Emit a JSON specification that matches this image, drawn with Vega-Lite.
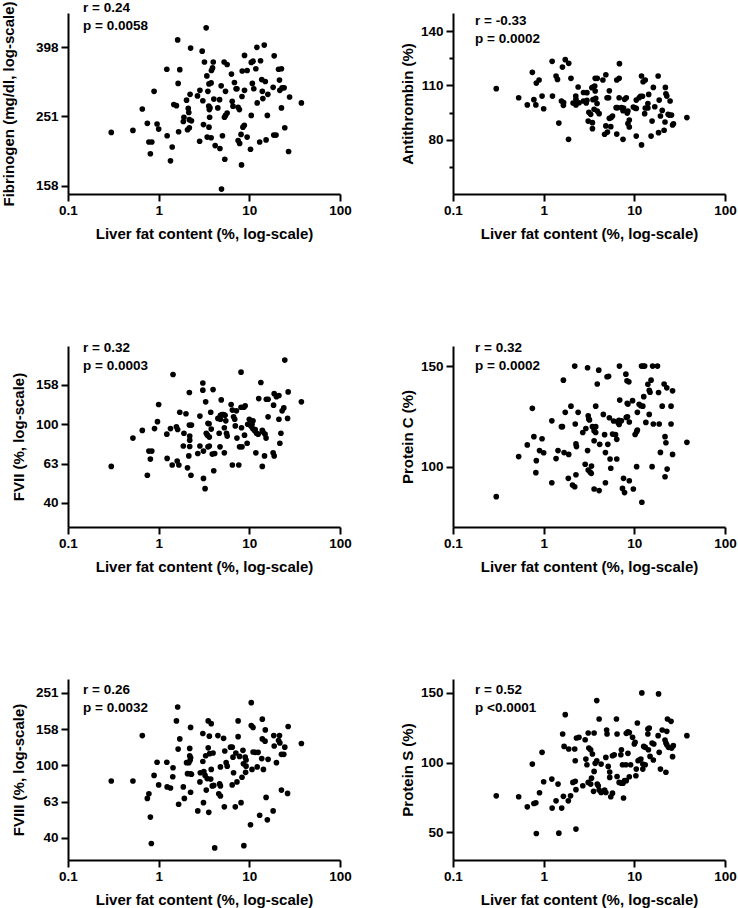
{
"$schema": "https://vega.github.io/schema/vega-lite/v6.json",
"background": "white",
"padding": {"left": 1, "top": 0, "right": 5, "bottom": 5},
"columns": 2,
"spacing": {"row": 152, "column": 113},
"bounds": "flush",
"config": {
 "font": "Liberation Sans",
 "view": {"stroke": null},
 "axis": {"grid": false, "domainColor": "black", "domainWidth": 2, "tickColor": "black", "tickWidth": 2, "tickSize": 7,
  "labelFont": "Liberation Sans", "labelFontSize": 13.5, "labelFontWeight": "bold", "labelColor": "black", "labelPadding": 3,
  "titleFont": "Liberation Sans", "titleFontSize": 15, "titleFontWeight": "bold", "titleColor": "black", "labelFlush": false, "labelOverlap": false},
 "axisX": {"labelPadding": 2, "titlePadding": 10},
 "axisY": {"titlePadding": 9},
 "title": {"font": "Liberation Sans", "fontSize": 13.5, "fontWeight": "bold", "color": "black", "anchor": "start", "frame": "group", "dx": 15, "lineHeight": 18, "baseline": "top"},
 "point": {"filled": true, "size": 32, "color": "black", "opacity": 1}
},
"datasets": {
"p1": [{"fat":0.30,"v":226},{"fat":0.52,"v":229},{"fat":0.66,"v":264},{"fat":0.75,"v":240},{"fat":0.89,"v":297},{"fat":0.96,"v":239},{"fat":1.0,"v":231},{"fat":0.78,"v":212},{"fat":0.84,"v":212},{"fat":0.81,"v":196},{"fat":1.24,"v":221},{"fat":1.23,"v":344},{"fat":1.41,"v":205},{"fat":1.35,"v":187},{"fat":1.47,"v":272},{"fat":1.57,"v":270},{"fat":1.62,"v":418},{"fat":1.64,"v":313},{"fat":1.71,"v":343},{"fat":1.66,"v":227},{"fat":1.90,"v":250},{"fat":1.87,"v":243},{"fat":2.03,"v":280},{"fat":2.12,"v":265},{"fat":2.15,"v":258},{"fat":2.18,"v":246},{"fat":2.30,"v":244},{"fat":2.08,"v":230},{"fat":2.18,"v":233},{"fat":2.25,"v":396},{"fat":2.22,"v":291},{"fat":2.68,"v":288},{"fat":2.85,"v":299},{"fat":2.83,"v":213},{"fat":3.02,"v":388},{"fat":3.07,"v":279},{"fat":3.12,"v":238},{"fat":3.2,"v":361},{"fat":3.34,"v":453},{"fat":3.4,"v":329},{"fat":3.43,"v":219},{"fat":3.49,"v":297},{"fat":3.57,"v":269},{"fat":3.62,"v":263},{"fat":3.68,"v":266},{"fat":3.59,"v":312},{"fat":3.79,"v":314},{"fat":3.59,"v":234},{"fat":3.65,"v":250},{"fat":3.82,"v":341},{"fat":3.93,"v":347},{"fat":4.0,"v":361},{"fat":3.79,"v":218},{"fat":4.06,"v":282},{"fat":4.2,"v":207},{"fat":4.49,"v":266},{"fat":4.7,"v":281},{"fat":4.74,"v":203},{"fat":4.89,"v":308},{"fat":4.93,"v":155},{"fat":5.05,"v":221},{"fat":5.27,"v":361},{"fat":5.32,"v":250},{"fat":5.46,"v":253},{"fat":5.36,"v":189},{"fat":5.46,"v":297},{"fat":5.69,"v":355},{"fat":5.69,"v":257},{"fat":6.35,"v":333},{"fat":6.47,"v":278},{"fat":6.6,"v":269},{"fat":6.85,"v":315},{"fat":7.14,"v":302},{"fat":7.3,"v":302},{"fat":7.52,"v":267},{"fat":7.77,"v":263},{"fat":7.52,"v":214},{"fat":7.82,"v":210},{"fat":8.1,"v":223},{"fat":8.2,"v":182},{"fat":8.3,"v":287},{"fat":8.35,"v":340},{"fat":9.46,"v":341},{"fat":8.5,"v":234},{"fat":8.8,"v":237},{"fat":8.85,"v":377},{"fat":8.85,"v":299},{"fat":9.46,"v":219},{"fat":10.3,"v":202},{"fat":10.5,"v":253},{"fat":10.5,"v":360},{"fat":10.8,"v":313},{"fat":11.0,"v":363},{"fat":11.2,"v":302},{"fat":11.8,"v":345},{"fat":12.1,"v":398},{"fat":12.2,"v":275},{"fat":13.0,"v":212},{"fat":13.3,"v":364},{"fat":13.7,"v":321},{"fat":13.9,"v":297},{"fat":14.1,"v":283},{"fat":14.6,"v":404},{"fat":15.0,"v":317},{"fat":15.3,"v":215},{"fat":15.8,"v":253},{"fat":16.0,"v":291},{"fat":18.3,"v":305},{"fat":18.6,"v":222},{"fat":18.8,"v":376},{"fat":19.7,"v":222},{"fat":21.0,"v":344},{"fat":21.5,"v":320},{"fat":21.7,"v":299},{"fat":22.6,"v":345},{"fat":22.6,"v":266},{"fat":23.0,"v":304},{"fat":24.2,"v":304},{"fat":24.6,"v":233},{"fat":27.1,"v":199},{"fat":27.8,"v":286},{"fat":37.5,"v":275}],
"p2": [{"fat":0.30,"v":108.2},{"fat":0.53,"v":103.2},{"fat":0.66,"v":99.2},{"fat":0.75,"v":117.2},{"fat":0.78,"v":102.1},{"fat":0.82,"v":99.2},{"fat":0.83,"v":111.3},{"fat":0.89,"v":113},{"fat":0.96,"v":104.1},{"fat":1.0,"v":97.1},{"fat":1.24,"v":123.3},{"fat":1.25,"v":104.1},{"fat":1.37,"v":115.2},{"fat":1.42,"v":113.3},{"fat":1.47,"v":89.2},{"fat":1.57,"v":101.4},{"fat":1.61,"v":120.1},{"fat":1.65,"v":99},{"fat":1.66,"v":100.5},{"fat":1.73,"v":124.2},{"fat":1.89,"v":122.2},{"fat":1.88,"v":80.2},{"fat":2.0,"v":113.9},{"fat":2.11,"v":100.3},{"fat":2.26,"v":104.1},{"fat":2.27,"v":102.3},{"fat":2.27,"v":99.2},{"fat":2.4,"v":109.1},{"fat":2.46,"v":100.4},{"fat":2.75,"v":106.1},{"fat":2.75,"v":101.4},{"fat":2.95,"v":100.3},{"fat":3.0,"v":101.7},{"fat":3.0,"v":106},{"fat":3.1,"v":90.3},{"fat":3.15,"v":95.1},{"fat":3.3,"v":94},{"fat":3.45,"v":89.4},{"fat":3.45,"v":86.1},{"fat":3.4,"v":108.7},{"fat":3.5,"v":109.1},{"fat":3.66,"v":109.6},{"fat":3.5,"v":102.1},{"fat":3.75,"v":102.8},{"fat":3.6,"v":96.8},{"fat":3.7,"v":113.9},{"fat":3.9,"v":113.9},{"fat":3.7,"v":106.9},{"fat":3.88,"v":100},{"fat":3.9,"v":95.8},{"fat":4.09,"v":94.4},{"fat":4.5,"v":113},{"fat":4.85,"v":115.9},{"fat":4.7,"v":83},{"fat":4.85,"v":87.6},{"fat":5.0,"v":103.2},{"fat":5.2,"v":103.2},{"fat":5.3,"v":107},{"fat":5.05,"v":84.2},{"fat":5.3,"v":91.8},{"fat":5.5,"v":87.2},{"fat":5.55,"v":92.2},{"fat":5.74,"v":93.1},{"fat":6.3,"v":97.7},{"fat":6.4,"v":113},{"fat":6.8,"v":113.9},{"fat":6.8,"v":103.2},{"fat":6.5,"v":97.7},{"fat":6.4,"v":83.1},{"fat":6.85,"v":122},{"fat":7.2,"v":97.7},{"fat":7.6,"v":97.5},{"fat":7.5,"v":96},{"fat":7.5,"v":80.2},{"fat":7.8,"v":102.3},{"fat":8.15,"v":103.2},{"fat":8.35,"v":94.7},{"fat":8.5,"v":95.8},{"fat":8.5,"v":88.9},{"fat":8.8,"v":90.9},{"fat":8.8,"v":87},{"fat":9.75,"v":98},{"fat":10.2,"v":97.5},{"fat":10.5,"v":97.3},{"fat":10.5,"v":101.9},{"fat":11.3,"v":103.2},{"fat":10.5,"v":82},{"fat":11.7,"v":104},{"fat":12.3,"v":104},{"fat":12.0,"v":115.2},{"fat":12.5,"v":112},{"fat":13.2,"v":113},{"fat":12.0,"v":77.1},{"fat":13.0,"v":94.4},{"fat":13.2,"v":97.5},{"fat":14.1,"v":97.5},{"fat":14.1,"v":100},{"fat":14.4,"v":105},{"fat":15.3,"v":82},{"fat":15.7,"v":90.3},{"fat":16.2,"v":108.9},{"fat":16.8,"v":98.2},{"fat":18.3,"v":115.2},{"fat":18.8,"v":101.9},{"fat":18.5,"v":83.9},{"fat":19.4,"v":93.1},{"fat":20.3,"v":96.2},{"fat":21.3,"v":85.2},{"fat":21.8,"v":89.8},{"fat":22.0,"v":108.9},{"fat":22.3,"v":105.4},{"fat":22.8,"v":104.1},{"fat":23.6,"v":94},{"fat":24.3,"v":93.6},{"fat":24.8,"v":101.4},{"fat":25.7,"v":93.6},{"fat":26.4,"v":88.1},{"fat":27,"v":88.8},{"fat":38,"v":92.2}],
"p3": [{"fat":0.30,"v":61},{"fat":0.52,"v":85},{"fat":0.66,"v":93},{"fat":0.75,"v":55},{"fat":0.78,"v":73},{"fat":0.84,"v":73},{"fat":0.81,"v":66.5},{"fat":0.90,"v":95},{"fat":0.97,"v":103},{"fat":1.0,"v":126},{"fat":1.23,"v":89},{"fat":1.24,"v":67},{"fat":1.35,"v":95},{"fat":1.41,"v":62},{"fat":1.44,"v":179},{"fat":1.57,"v":97},{"fat":1.62,"v":94},{"fat":1.6,"v":65},{"fat":1.67,"v":62},{"fat":1.71,"v":115},{"fat":1.87,"v":77.5},{"fat":1.90,"v":90},{"fat":2.0,"v":113},{"fat":2.08,"v":60},{"fat":2.15,"v":69},{"fat":2.18,"v":145},{"fat":2.2,"v":87},{"fat":2.2,"v":83},{"fat":2.2,"v":77},{"fat":2.18,"v":99},{"fat":2.3,"v":99},{"fat":2.27,"v":55},{"fat":2.7,"v":71},{"fat":2.85,"v":110},{"fat":2.85,"v":77.5},{"fat":3.07,"v":162},{"fat":3.07,"v":149},{"fat":3.12,"v":73},{"fat":3.12,"v":53},{"fat":3.25,"v":47},{"fat":3.3,"v":130},{"fat":3.35,"v":90},{"fat":3.45,"v":88},{"fat":3.5,"v":101},{"fat":3.6,"v":100.5},{"fat":3.5,"v":76.7},{"fat":3.62,"v":77.5},{"fat":3.62,"v":86},{"fat":3.75,"v":115},{"fat":3.8,"v":94.5},{"fat":3.98,"v":150},{"fat":3.9,"v":70.5},{"fat":4.15,"v":71},{"fat":4.05,"v":58},{"fat":4.5,"v":107},{"fat":4.8,"v":106},{"fat":4.65,"v":90},{"fat":4.75,"v":76.7},{"fat":4.9,"v":133},{"fat":4.8,"v":111},{"fat":5.0,"v":112},{"fat":5.2,"v":112},{"fat":5.4,"v":111},{"fat":5.3,"v":71.5},{"fat":5.3,"v":96},{"fat":5.6,"v":90},{"fat":5.7,"v":87},{"fat":5.5,"v":104},{"fat":6.3,"v":126},{"fat":6.5,"v":118},{"fat":6.5,"v":62},{"fat":6.7,"v":109},{"fat":6.9,"v":106},{"fat":7.0,"v":98},{"fat":7.2,"v":117},{"fat":7.3,"v":85},{"fat":7.65,"v":62},{"fat":7.8,"v":76.7},{"fat":8.1,"v":122},{"fat":8.1,"v":184},{"fat":8.2,"v":96},{"fat":8.3,"v":76.7},{"fat":8.7,"v":122},{"fat":8.85,"v":88},{"fat":9.0,"v":124},{"fat":9.46,"v":80},{"fat":9.6,"v":100},{"fat":10.0,"v":106},{"fat":10.4,"v":98},{"fat":10.7,"v":100},{"fat":11.0,"v":104},{"fat":10.9,"v":95},{"fat":11.4,"v":93},{"fat":11.6,"v":94},{"fat":12.0,"v":90},{"fat":12.5,"v":89},{"fat":11.8,"v":71.5},{"fat":12.7,"v":135},{"fat":13.4,"v":163},{"fat":13.9,"v":93},{"fat":13.9,"v":61},{"fat":14.7,"v":69},{"fat":14.1,"v":91.5},{"fat":14.9,"v":89},{"fat":15.3,"v":85},{"fat":15.4,"v":134},{"fat":16.1,"v":134},{"fat":16.1,"v":109},{"fat":18.5,"v":125},{"fat":18.3,"v":71.5},{"fat":18.8,"v":69},{"fat":18.8,"v":143},{"fat":19.9,"v":138},{"fat":21.2,"v":140},{"fat":21.2,"v":106},{"fat":21.7,"v":80},{"fat":22.3,"v":90},{"fat":23.0,"v":117},{"fat":24.0,"v":121},{"fat":24.6,"v":212},{"fat":26.4,"v":107},{"fat":26.8,"v":146},{"fat":37.5,"v":130}],
"p4": [{"fat":0.30,"v":85.1},{"fat":0.53,"v":105},{"fat":0.66,"v":110.8},{"fat":0.75,"v":129},{"fat":0.78,"v":114.9},{"fat":0.82,"v":97},{"fat":0.83,"v":103},{"fat":0.90,"v":108},{"fat":0.96,"v":113.9},{"fat":1.0,"v":106.9},{"fat":1.23,"v":92},{"fat":1.23,"v":122.8},{"fat":1.37,"v":104},{"fat":1.44,"v":108},{"fat":1.57,"v":119.9},{"fat":1.61,"v":119.9},{"fat":1.65,"v":143},{"fat":1.68,"v":107},{"fat":1.73,"v":127},{"fat":1.89,"v":106.1},{"fat":1.87,"v":94.2},{"fat":2.0,"v":130.1},{"fat":2.08,"v":90.9},{"fat":2.2,"v":90},{"fat":2.2,"v":150},{"fat":2.23,"v":121.2},{"fat":2.27,"v":111.3},{"fat":2.3,"v":110},{"fat":2.27,"v":96},{"fat":2.4,"v":127},{"fat":2.7,"v":117},{"fat":2.87,"v":101.2},{"fat":2.92,"v":119},{"fat":3.05,"v":149.2},{"fat":3.05,"v":108},{"fat":3.1,"v":125.3},{"fat":3.15,"v":123.7},{"fat":3.2,"v":123.2},{"fat":3.1,"v":98.3},{"fat":3.25,"v":97.3},{"fat":3.35,"v":96.7},{"fat":3.37,"v":100.3},{"fat":3.45,"v":119.9},{"fat":3.6,"v":117.9},{"fat":3.75,"v":119.9},{"fat":3.6,"v":88.9},{"fat":3.6,"v":112.9},{"fat":3.75,"v":130.1},{"fat":3.9,"v":141.1},{"fat":3.75,"v":117},{"fat":4.05,"v":148},{"fat":4.09,"v":88.1},{"fat":4.15,"v":111.1},{"fat":4.55,"v":126},{"fat":4.8,"v":107},{"fat":4.7,"v":115.9},{"fat":5.0,"v":144.7},{"fat":5.2,"v":144.9},{"fat":5.1,"v":111.1},{"fat":4.8,"v":92},{"fat":5.3,"v":124.3},{"fat":5.4,"v":103.8},{"fat":5.5,"v":99.2},{"fat":5.75,"v":116.2},{"fat":5.9,"v":122.7},{"fat":6.2,"v":115.9},{"fat":6.4,"v":113.6},{"fat":6.4,"v":103.8},{"fat":6.6,"v":122},{"fat":6.8,"v":121},{"fat":6.75,"v":123},{"fat":6.85,"v":150},{"fat":6.9,"v":133.1},{"fat":7.2,"v":122.8},{"fat":7.4,"v":89.2},{"fat":7.6,"v":94.2},{"fat":7.8,"v":87.1},{"fat":8.07,"v":146},{"fat":8.3,"v":142.7},{"fat":8.35,"v":131.5},{"fat":8.5,"v":131.1},{"fat":8.15,"v":124.5},{"fat":8.4,"v":124.8},{"fat":8.7,"v":142.2},{"fat":8.8,"v":122.2},{"fat":8.8,"v":93},{"fat":9.56,"v":132.8},{"fat":9.75,"v":88.9},{"fat":10.2,"v":116},{"fat":10.6,"v":117.4},{"fat":10.8,"v":118.2},{"fat":10.6,"v":100},{"fat":10.8,"v":127},{"fat":11.3,"v":131},{"fat":11.8,"v":130.3},{"fat":12.0,"v":150},{"fat":12.5,"v":150},{"fat":13.0,"v":150},{"fat":12.1,"v":82.3},{"fat":12.4,"v":130.1},{"fat":12.7,"v":134.8},{"fat":13.4,"v":122},{"fat":14.1,"v":141},{"fat":14.6,"v":138},{"fat":14.9,"v":137},{"fat":14.6,"v":126},{"fat":15.3,"v":143},{"fat":15.7,"v":100},{"fat":15.9,"v":150},{"fat":18.0,"v":150},{"fat":16.2,"v":121.2},{"fat":18.5,"v":136.9},{"fat":18.8,"v":121.2},{"fat":19.4,"v":107.1},{"fat":20.3,"v":130.1},{"fat":21.3,"v":141.1},{"fat":21.8,"v":114.9},{"fat":22.3,"v":111.9},{"fat":21.8,"v":95},{"fat":22.8,"v":139.2},{"fat":23.0,"v":98.8},{"fat":25.4,"v":130.1},{"fat":25.4,"v":121.2},{"fat":26.4,"v":137.7},{"fat":26.4,"v":106.1},{"fat":38,"v":112.1}],
"p5": [{"fat":0.30,"v":82},{"fat":0.52,"v":82},{"fat":0.66,"v":146},{"fat":0.75,"v":65.7},{"fat":0.78,"v":69.7},{"fat":0.81,"v":51.8},{"fat":0.83,"v":37},{"fat":0.89,"v":88},{"fat":0.96,"v":104},{"fat":1.0,"v":78},{"fat":1.23,"v":104},{"fat":1.24,"v":76},{"fat":1.35,"v":75},{"fat":1.44,"v":97},{"fat":1.43,"v":86.5},{"fat":1.57,"v":176},{"fat":1.62,"v":210},{"fat":1.64,"v":123},{"fat":1.66,"v":61},{"fat":1.71,"v":140},{"fat":1.87,"v":76},{"fat":1.92,"v":65.7},{"fat":2.03,"v":103.5},{"fat":2.08,"v":90},{"fat":2.15,"v":103.5},{"fat":2.2,"v":124},{"fat":2.2,"v":113},{"fat":2.25,"v":110},{"fat":2.22,"v":106.6},{"fat":2.25,"v":89.9},{"fat":2.3,"v":89.3},{"fat":2.25,"v":71},{"fat":2.25,"v":162},{"fat":2.7,"v":56},{"fat":2.85,"v":81},{"fat":2.88,"v":91},{"fat":3.07,"v":150},{"fat":3.07,"v":105},{"fat":3.12,"v":62.2},{"fat":3.15,"v":92.3},{"fat":3.25,"v":88},{"fat":3.3,"v":113},{"fat":3.35,"v":73},{"fat":3.43,"v":84.5},{"fat":3.52,"v":176},{"fat":3.52,"v":125},{"fat":3.62,"v":145},{"fat":3.57,"v":55},{"fat":3.65,"v":116},{"fat":3.75,"v":84},{"fat":3.8,"v":170},{"fat":3.8,"v":95},{"fat":3.98,"v":117},{"fat":3.9,"v":77},{"fat":4.05,"v":77.5},{"fat":4.15,"v":35},{"fat":4.5,"v":146},{"fat":4.6,"v":69.7},{"fat":4.8,"v":67.7},{"fat":4.7,"v":79},{"fat":4.8,"v":77},{"fat":4.8,"v":98},{"fat":5.2,"v":141},{"fat":5.36,"v":120},{"fat":5.55,"v":103.5},{"fat":5.7,"v":99},{"fat":5.3,"v":59},{"fat":6.2,"v":126},{"fat":6.47,"v":126},{"fat":6.6,"v":111},{"fat":6.47,"v":78},{"fat":6.7,"v":91},{"fat":7.0,"v":59},{"fat":7.1,"v":117},{"fat":7.3,"v":81},{"fat":7.52,"v":176},{"fat":7.52,"v":144},{"fat":7.8,"v":112},{"fat":8.1,"v":62.2},{"fat":8.3,"v":86},{"fat":8.5,"v":121},{"fat":8.6,"v":102},{"fat":8.7,"v":36},{"fat":9.0,"v":111},{"fat":9.2,"v":107},{"fat":9.1,"v":91.5},{"fat":9.2,"v":99},{"fat":10.3,"v":47},{"fat":10.5,"v":222},{"fat":10.5,"v":166},{"fat":10.7,"v":95},{"fat":11.0,"v":162},{"fat":11.0,"v":118.5},{"fat":11.6,"v":118},{"fat":12.5,"v":118},{"fat":12.2,"v":98},{"fat":13.0,"v":53},{"fat":13.7,"v":109},{"fat":13.9,"v":180},{"fat":13.9,"v":140},{"fat":14.3,"v":95},{"fat":14.9,"v":136},{"fat":15.0,"v":157},{"fat":15.3,"v":66.5},{"fat":15.8,"v":50},{"fat":16.1,"v":108},{"fat":18.3,"v":56},{"fat":18.6,"v":146},{"fat":18.8,"v":128},{"fat":19.9,"v":103.5},{"fat":21.0,"v":137},{"fat":21.5,"v":146},{"fat":21.7,"v":133},{"fat":22.6,"v":115},{"fat":24.0,"v":115},{"fat":22.6,"v":73},{"fat":24.6,"v":126},{"fat":26.4,"v":70},{"fat":26.8,"v":164},{"fat":37.5,"v":132}],
"p6": [{"fat":0.30,"v":76.1},{"fat":0.53,"v":75.4},{"fat":0.66,"v":68.2},{"fat":0.75,"v":98.9},{"fat":0.78,"v":70.6},{"fat":0.82,"v":71.1},{"fat":0.83,"v":49},{"fat":0.90,"v":78.3},{"fat":0.96,"v":107.3},{"fat":1.0,"v":86.2},{"fat":1.23,"v":88.1},{"fat":1.24,"v":67.3},{"fat":1.37,"v":72.5},{"fat":1.44,"v":84.5},{"fat":1.47,"v":49.3},{"fat":1.58,"v":67.3},{"fat":1.62,"v":120.5},{"fat":1.65,"v":75.7},{"fat":1.68,"v":111.6},{"fat":1.73,"v":134.4},{"fat":1.87,"v":72.5},{"fat":1.89,"v":109.7},{"fat":1.98,"v":76.1},{"fat":2.1,"v":85.7},{"fat":2.2,"v":109.7},{"fat":2.23,"v":101.3},{"fat":2.23,"v":86.5},{"fat":2.27,"v":80.5},{"fat":2.3,"v":117.6},{"fat":2.45,"v":118.1},{"fat":2.27,"v":52.2},{"fat":2.7,"v":83.3},{"fat":2.87,"v":116.4},{"fat":2.92,"v":102.5},{"fat":3.0,"v":98.4},{"fat":3.1,"v":121.2},{"fat":3.1,"v":85.7},{"fat":3.3,"v":84.5},{"fat":3.15,"v":110.4},{"fat":3.3,"v":109.2},{"fat":3.37,"v":88.8},{"fat":3.45,"v":106.1},{"fat":3.6,"v":93.6},{"fat":3.6,"v":121.2},{"fat":3.55,"v":79.3},{"fat":3.7,"v":99.4},{"fat":3.85,"v":101.3},{"fat":3.85,"v":144.5},{"fat":3.9,"v":84.5},{"fat":4.0,"v":83.3},{"fat":4.09,"v":131.3},{"fat":4.09,"v":80.2},{"fat":4.3,"v":78.5},{"fat":4.3,"v":98.9},{"fat":4.7,"v":80.2},{"fat":4.85,"v":78.5},{"fat":4.85,"v":103.7},{"fat":4.95,"v":123.4},{"fat":5.0,"v":120.5},{"fat":5.15,"v":97.2},{"fat":5.35,"v":93.2},{"fat":5.35,"v":89.3},{"fat":5.5,"v":75.4},{"fat":5.74,"v":104.9},{"fat":6.0,"v":105.6},{"fat":5.74,"v":78},{"fat":6.35,"v":131.3},{"fat":6.45,"v":120.5},{"fat":6.45,"v":90},{"fat":6.8,"v":85.7},{"fat":7.1,"v":105.6},{"fat":7.2,"v":109.2},{"fat":7.2,"v":85.2},{"fat":7.5,"v":85.2},{"fat":7.6,"v":74.5},{"fat":7.4,"v":98.4},{"fat":8.07,"v":98.4},{"fat":7.8,"v":87},{"fat":8.15,"v":87},{"fat":8.15,"v":121},{"fat":8.5,"v":122},{"fat":8.8,"v":121.5},{"fat":8.5,"v":106.6},{"fat":8.8,"v":89.8},{"fat":9.1,"v":98.4},{"fat":9.56,"v":118.1},{"fat":10.0,"v":113.3},{"fat":10.2,"v":114.5},{"fat":10.4,"v":90.5},{"fat":10.5,"v":95.3},{"fat":10.8,"v":128.4},{"fat":11.0,"v":101.3},{"fat":11.3,"v":101.8},{"fat":11.8,"v":102.5},{"fat":12.4,"v":98.9},{"fat":12.1,"v":150},{"fat":12.7,"v":111.6},{"fat":13.2,"v":110.9},{"fat":12.4,"v":95.3},{"fat":13.2,"v":98.4},{"fat":14.1,"v":124.1},{"fat":14.6,"v":124.8},{"fat":14.1,"v":120.5},{"fat":14.3,"v":109.2},{"fat":14.9,"v":104.4},{"fat":15.7,"v":114},{"fat":16.2,"v":101.8},{"fat":16.4,"v":113.3},{"fat":18.3,"v":119.3},{"fat":18.5,"v":149.3},{"fat":18.8,"v":107.3},{"fat":19.4,"v":95.3},{"fat":20.3,"v":123.4},{"fat":21.8,"v":116.2},{"fat":22.3,"v":114},{"fat":22.8,"v":112.8},{"fat":22.3,"v":93},{"fat":22.8,"v":122.4},{"fat":23.2,"v":131.3},{"fat":23.8,"v":110.9},{"fat":25.4,"v":129.6},{"fat":25.8,"v":110.4},{"fat":26.4,"v":104.2},{"fat":26.9,"v":112.1},{"fat":38,"v":119.3}]
},
"concat": [
 {"width": 272, "height": 181, "data": {"name": "p1"},
  "title": {"text": ["r = 0.24", "p = 0.0058"], "offset": -32},
  "mark": {"type": "point"},
  "encoding": {
   "x": {"field": "fat", "type": "quantitative", "scale": {"type": "log", "domain": [0.1, 100], "nice": false}, "axis": {"values": [0.1, 1, 10, 100], "format": "~g", "title": "Liver fat content (%, log-scale)"}},
   "y": {"field": "v", "type": "quantitative", "scale": {"type": "log", "domain": [150, 500], "nice": false}, "axis": {"values": [158.49, 251.19, 398.11], "format": ".0f", "title": "Fibrinogen (mg/dl, log-scale)", "titlePadding": 19}}
  }},
 {"width": 272, "height": 181, "data": {"name": "p2"},
  "title": {"text": ["r = -0.33", "p = 0.0002"], "offset": -32, "dx": 22},
  "mark": {"type": "point"},
  "encoding": {
   "x": {"field": "fat", "type": "quantitative", "scale": {"type": "log", "domain": [0.1, 100], "nice": false}, "axis": {"values": [0.1, 1, 10, 100], "format": "~g", "title": "Liver fat content (%, log-scale)"}},
   "y": {"field": "v", "type": "quantitative", "scale": {"domain": [50, 150], "nice": false, "zero": false}, "axis": {"values": [65, 80, 95, 110, 125, 140], "labelExpr": "datum.value % 30 == 20 ? datum.label : ''", "tickSize": {"condition": {"test": "datum.value % 30 == 20", "value": 7}, "value": 4}, "title": "Antithrombin (%)", "titlePadding": 5}}
  }},
 {"width": 272, "height": 181, "data": {"name": "p3"},
  "title": {"text": ["r = 0.32", "p = 0.0003"], "offset": -26},
  "mark": {"type": "point"},
  "encoding": {
   "x": {"field": "fat", "type": "quantitative", "scale": {"type": "log", "domain": [0.1, 100], "nice": false}, "axis": {"values": [0.1, 1, 10, 100], "format": "~g", "title": "Liver fat content (%, log-scale)"}},
   "y": {"field": "v", "type": "quantitative", "scale": {"type": "log", "domain": [30, 250], "nice": false}, "axis": {"values": [39.81, 63.1, 100, 158.49], "format": ".0f", "title": "FVII (%, log-scale)"}}
  }},
 {"width": 272, "height": 181, "data": {"name": "p4"},
  "title": {"text": ["r = 0.32", "p = 0.0002"], "offset": -26, "dx": 22},
  "mark": {"type": "point"},
  "encoding": {
   "x": {"field": "fat", "type": "quantitative", "scale": {"type": "log", "domain": [0.1, 100], "nice": false}, "axis": {"values": [0.1, 1, 10, 100], "format": "~g", "title": "Liver fat content (%, log-scale)"}},
   "y": {"field": "v", "type": "quantitative", "scale": {"domain": [70, 160], "nice": false, "zero": false}, "axis": {"values": [100, 150], "title": "Protein C (%)", "titlePadding": 5}}
  }},
 {"width": 272, "height": 181, "data": {"name": "p5"},
  "title": {"text": ["r = 0.26", "p = 0.0032"], "offset": -35},
  "mark": {"type": "point"},
  "encoding": {
   "x": {"field": "fat", "type": "quantitative", "scale": {"type": "log", "domain": [0.1, 100], "nice": false}, "axis": {"values": [0.1, 1, 10, 100], "format": "~g", "title": "Liver fat content (%, log-scale)"}},
   "y": {"field": "v", "type": "quantitative", "scale": {"type": "log", "domain": [30, 300], "nice": false}, "axis": {"values": [39.81, 63.1, 100, 158.49, 251.19], "format": ".0f", "title": "FVIII (%, log-scale)"}}
  }},
 {"width": 272, "height": 181, "data": {"name": "p6"},
  "title": {"text": ["r = 0.52", "p <0.0001"], "offset": -35, "dx": 22},
  "mark": {"type": "point"},
  "encoding": {
   "x": {"field": "fat", "type": "quantitative", "scale": {"type": "log", "domain": [0.1, 100], "nice": false}, "axis": {"values": [0.1, 1, 10, 100], "format": "~g", "title": "Liver fat content (%, log-scale)"}},
   "y": {"field": "v", "type": "quantitative", "scale": {"domain": [30, 160], "nice": false, "zero": false}, "axis": {"values": [50, 100, 150], "title": "Protein S (%)", "titlePadding": 5}}
  }}
]
}
